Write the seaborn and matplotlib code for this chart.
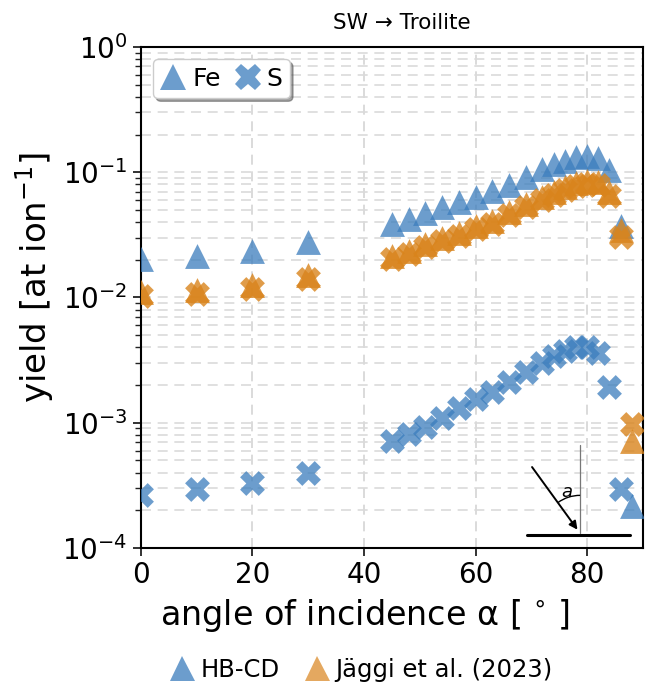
import numpy as np
import pandas as pd
import matplotlib
matplotlib.use("Agg")
import matplotlib.pyplot as plt
import seaborn as sns
from matplotlib.lines import Line2D
from matplotlib.patches import Arc

# ---------------- data ----------------
angles_fe = [0, 10, 20, 30, 45, 48, 51, 54, 57, 60, 63, 66, 69, 72, 74, 76, 78, 80, 82, 84, 86, 88]
hbcd_fe = [0.0203, 0.0216, 0.0235, 0.0275, 0.0386, 0.0424, 0.047, 0.0525, 0.0575, 0.064, 0.0714,
           0.0797, 0.091, 0.106, 0.117, 0.124, 0.132, 0.136, 0.130, 0.104, 0.0375, 0.000215]

angles_s = [0, 10, 20, 30, 45, 48, 51, 54, 57, 60, 63, 66, 69, 72, 74, 76, 78, 80, 82, 84, 86]
hbcd_s = [0.000267, 0.000293, 0.000331, 0.000398, 0.000714, 0.000807, 0.000925, 0.0011, 0.0013,
          0.00154, 0.00176, 0.00212, 0.00256, 0.00302, 0.00342, 0.00375, 0.00403, 0.00403,
          0.0036, 0.00193, 0.000296]

angles_j = [0, 10, 20, 30, 45, 48, 51, 54, 57, 60, 63, 66, 69, 72, 74, 76, 78, 80, 82, 84, 86, 88]
jaggi_fe = [0.0110, 0.0115, 0.0126, 0.0150, 0.0216, 0.0236, 0.0268, 0.0296, 0.0326, 0.0372, 0.0410,
            0.0484, 0.0556, 0.0630, 0.0690, 0.0758, 0.0815, 0.0850, 0.0830, 0.0690, 0.0345, 0.00071]
jaggi_s = [0.0102, 0.0106, 0.0117, 0.0141, 0.0202, 0.0222, 0.0252, 0.0280, 0.0308, 0.0354, 0.0388,
           0.0458, 0.0528, 0.0596, 0.0652, 0.0716, 0.0772, 0.0812, 0.0790, 0.0650, 0.0305, 0.00098]

title = "SW \u2192 Troilite"
x_ticks = [0, 20, 40, 60, 80]

# ---------------- style ----------------
sns.set_theme(style="ticks")
plt.rcParams["font.family"] = ["DejaVu Sans"]
plt.rcParams["text.color"] = "black"
plt.rcParams["axes.labelcolor"] = "black"
plt.rcParams["xtick.color"] = "black"
plt.rcParams["ytick.color"] = "black"

blue = "#3b7dbd"
orange = "#d9841c"

df = pd.concat([
    pd.DataFrame({"angle": angles_fe, "yield": hbcd_fe, "src": "HB-CD", "el": "Fe"}),
    pd.DataFrame({"angle": angles_s, "yield": hbcd_s, "src": "HB-CD", "el": "S"}),
    pd.DataFrame({"angle": angles_j, "yield": jaggi_fe, "src": "Jaggi", "el": "Fe"}),
    pd.DataFrame({"angle": angles_j, "yield": jaggi_s, "src": "Jaggi", "el": "S"}),
], ignore_index=True)

fig = plt.figure(figsize=(6.52, 6.91), dpi=100)
ax = fig.add_axes([0.216, 0.207, 0.770, 0.725])

for src, col, a in [("HB-CD", blue, 0.75), ("Jaggi", orange, 0.8)]:
    for el, mk in [("Fe", "^"), ("S", "X")]:
        sub = df[(df.src == src) & (df.el == el)]
        sns.scatterplot(data=sub, x="angle", y="yield", ax=ax, marker=mk, s=320,
                        color=col, alpha=a, linewidth=0, legend=False, zorder=3)

ax.set_yscale("log")
ax.set_ylim(1e-4, 1)
ax.set_xlim(0, 90)
ax.set_xticks(x_ticks)
ax.grid(True, which="major", axis="x", ls=(0, (6, 4)), color="#d4d4d4", lw=1.2)
ax.grid(True, which="both", axis="y", ls=(0, (6, 4)), color="#dadada", lw=1.2)
ax.set_axisbelow(True)
for sp in ax.spines.values():
    sp.set_color("black")
    sp.set_linewidth(1.5)
ax.tick_params(axis="both", which="major", labelsize=20, length=6, width=1.3, color="#222222")
ax.tick_params(axis="y", which="minor", length=4, width=1.0, color="#222222")
ax.set_xlabel("angle of incidence \u03b1 [$\\,^\\circ\\,$]", fontsize=24)
ax.set_ylabel("yield [at ion$^{-1}$]", fontsize=24.5)
ax.xaxis.set_label_coords(0.446, -0.097)
ax.yaxis.set_label_coords(-0.168, 0.539)
ax.set_title(title, fontsize=15.5, pad=13, x=0.52)

# inner legend (elements)
h_el = [Line2D([], [], marker="^", ls="none", color=blue, alpha=0.75, markersize=19, markeredgewidth=0),
        Line2D([], [], marker="X", ls="none", color=blue, alpha=0.75, markersize=19, markeredgewidth=0)]
leg = ax.legend(h_el, ["Fe", "S"], loc="upper left", ncol=2, fontsize=18, shadow=True,
                fancybox=True, framealpha=1, edgecolor="#cccccc", handletextpad=0.25,
                columnspacing=0.6, handlelength=1.0, borderpad=0.3, bbox_to_anchor=(0.0, 1.0))

# bottom legend (sources)
h_src = [Line2D([], [], marker="^", ls="none", color=blue, alpha=0.75, markersize=18, markeredgewidth=0),
         Line2D([], [], marker="^", ls="none", color=orange, alpha=0.7, markersize=18, markeredgewidth=0)]
fig.legend(h_src, ["HB-CD", "J\u00e4ggi et al. (2023)"], loc="lower center", ncol=2, frameon=False,
           fontsize=17.5, bbox_to_anchor=(0.553, -0.018), handletextpad=0.2, columnspacing=1.0,
           handlelength=1.1)

# incidence-angle sketch
tr = ax.transAxes
ax.plot([0.769, 0.974], [0.026, 0.026], color="black", lw=2.2, transform=tr, zorder=5)
ax.plot([0.875, 0.875], [0.030, 0.206], color="#777777", lw=0.9, transform=tr, zorder=5)
ax.annotate("", xy=(0.873, 0.032), xytext=(0.776, 0.166), xycoords=tr, textcoords=tr,
            arrowprops=dict(arrowstyle="-|>", color="black", lw=1.4, mutation_scale=12), zorder=6)
ax.add_patch(Arc((0.875, 0.030), 0.15, 0.15, theta1=90, theta2=126, transform=tr,
                 color="black", lw=1.0, zorder=6))
ax.text(0.848, 0.112, "$a$", transform=tr, fontsize=13, ha="center", va="center", zorder=6)

fig.savefig("out.png", dpi=100)
